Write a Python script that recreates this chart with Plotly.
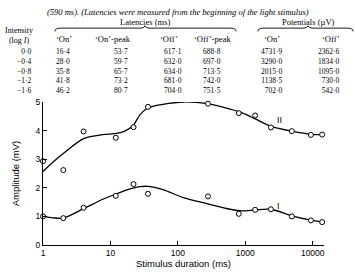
import math
import plotly.graph_objects as go

# ---------------- data ----------------
durations = [1, 2, 4, 12, 22, 36, 280, 800, 1400, 2400, 4900, 9400, 13800]
amp_I = [1.00, 0.94, 1.30, 1.72, 2.13, 1.79, 1.70, 1.09, 1.23, 1.25, 1.00, 0.86, 0.80]
amp_II = [2.93, 2.62, 3.97, 3.75, 4.12, 4.83, 4.94, 4.61, 4.53, 4.11, 3.98, 3.85, 3.86]

# hand-drawn fitted curves
curve_x = [1, 1.41, 2, 4, 7.7, 12.3, 16.3, 21.7, 27.4, 36.3, 60, 120, 277, 594, 900, 1430, 2410, 4900, 9400, 13800]
curve_I = [1.00, 0.95, 0.94, 1.27, 1.60, 1.79, 1.90, 1.99, 2.04, 2.05, 1.94, 1.66, 1.44, 1.25, 1.19, 1.23, 1.25, 1.02, 0.87, 0.81]
curve_II = [2.57, 2.90, 3.20, 3.72, 3.86, 3.90, 3.98, 4.18, 4.55, 4.80, 4.92, 5.00, 4.94, 4.75, 4.62, 4.40, 4.15, 3.98, 3.87, 3.86]

x_ticks = [1, 10, 100, 1000, 10000]
x_max = 14700
y_ticks = [0, 1, 2, 3, 4, 5]

intensity = ["0·0", "−0·4", "−0·8", "−1·2", "−1·6"]
lat_on = ["16·4", "28·0", "35·8", "41·8", "46·2"]
lat_on_peak = ["53·7", "59·7", "65·7", "73·2", "80·7"]
lat_off = ["617·1", "632·0", "634·0", "681·0", "704·0"]
lat_off_peak = ["688·8", "697·0", "713·5", "742·0", "751·5"]
pot_on = ["4731·9", "3290·0", "2015·0", "1138·5", "702·0"]
pot_off = ["2362·6", "1834·0", "1095·0", "730·0", "542·0"]

# ---------------- layout geometry ----------------
WIDTH, HEIGHT = 355, 279
ML, MR, MT, MB = 43, 31, 102, 26
PW = WIDTH - ML - MR
PH = HEIGHT - MT - MB


def PX(x):
    return (x - ML) / PW


def PY(y):
    return (HEIGHT - MB - y) / PH


SERIF = "Liberation Serif"
SANS = "Liberation Sans"

fig = go.Figure()

for cy in (curve_I, curve_II):
    fig.add_trace(go.Scatter(x=curve_x, y=cy, mode="lines",
                             line=dict(color="black", width=1.3, shape="spline", smoothing=0.8),
                             hoverinfo="skip", showlegend=False, cliponaxis=False))
for py_ in (amp_I, amp_II):
    fig.add_trace(go.Scatter(x=durations, y=py_, mode="markers",
                             marker=dict(symbol="circle", size=5, color="white", line=dict(color="black", width=1)),
                             showlegend=False, cliponaxis=False))

ann = []
# curve labels
ann.append(dict(x=math.log10(3200), y=4.36, xref="x", yref="y", text="II", showarrow=False,
                font=dict(family=SANS, size=9, color="black")))
ann.append(dict(x=math.log10(3100), y=1.36, xref="x", yref="y", text="I", showarrow=False,
                font=dict(family=SANS, size=9, color="black")))

# caption along the top edge
ann.append(dict(x=PX(178), y=PY(0), xref="paper", yref="paper", xanchor="center", yanchor="top",
                text="<i>(590 ms). (Latencies were measured from the beginning of the light stimulus)</i>",
                showarrow=False, font=dict(family=SERIF, size=8.5, color="black")))


def txt(x, y, s, anchor="center", size=9, yanchor="middle", align="center"):
    ann.append(dict(x=PX(x), y=PY(y), xref="paper", yref="paper", xanchor=anchor, yanchor=yanchor,
                    align=align, text=s, showarrow=False, font=dict(family=SERIF, size=size, color="black")))


txt(145, 17, "Latencies (ms)", size=8.5)
txt(308, 17, "Potentials (µV)", size=8.5)
txt(19, 20, "Intensity<br>(log <i>I</i>)", size=8, yanchor="top")
headers = [(64, "‘On’"), (113, "‘On’-peak"), (169, "‘Off’"), (212, "‘Off’-peak"), (272, "‘On’"), (331, "‘Off’")]
for hx, hs in headers:
    txt(hx, 35, hs, size=8.5)

cols = [(33, intensity), (72, lat_on), (130, lat_on_peak), (184, lat_off), (223, lat_off_peak),
        (284, pot_on), (341, pot_off)]
for cx, vals in cols:
    txt(cx, 42, "<br>".join(vals), anchor="right", size=7.5, yanchor="top", align="right")


# braces
def brace(x0, x1, xm, ytop, yend):
    pts = (f"M {PX(x0)},{PY(yend)} Q {PX(x0)},{PY(ytop)} {PX(x0 + 5)},{PY(ytop)} "
           f"L {PX(xm - 4)},{PY(ytop)} Q {PX(xm - 1)},{PY(ytop)} {PX(xm)},{PY(ytop - 2.5)} "
           f"Q {PX(xm + 1)},{PY(ytop)} {PX(xm + 4)},{PY(ytop)} "
           f"L {PX(x1 - 5)},{PY(ytop)} Q {PX(x1)},{PY(ytop)} {PX(x1)},{PY(yend)}")
    return dict(type="path", path=pts, xref="paper", yref="paper", line=dict(color="black", width=0.9))


shapes = [brace(55, 236, 145, 24, 27.5), brace(258, 353, 308, 24, 27.5)]

tick_vals = x_ticks + [x_max]
tick_text = [str(v) for v in x_ticks] + [""]

fig.update_layout(
    width=WIDTH, height=HEIGHT,
    margin=dict(l=ML, r=MR, t=MT, b=MB, pad=0),
    paper_bgcolor="white", plot_bgcolor="white",
    annotations=ann, shapes=shapes,
    xaxis=dict(type="log", range=[0, math.log10(x_max)], tickvals=tick_vals, ticktext=tick_text,
               ticks="inside", ticklen=4, tickwidth=1.2, tickcolor="black",
               showline=True, linecolor="black", linewidth=1.3, showgrid=False, zeroline=False,
               tickfont=dict(family=SANS, size=8.5, color="black"),
               title=dict(text="Stimulus duration (ms)", standoff=2,
                          font=dict(family=SANS, size=9.5, color="black"))),
    yaxis=dict(range=[0, 5], tickvals=y_ticks, ticks="inside", ticklen=4, tickwidth=1.2, tickcolor="black",
               showline=True, linecolor="black", linewidth=1.3, showgrid=False, zeroline=False,
               tickfont=dict(family=SANS, size=8.5, color="black"),
               title=dict(text="Amplitude (mV)", standoff=14,
                          font=dict(family=SANS, size=9.5, color="black"))),
)

fig.write_html("out.html")
